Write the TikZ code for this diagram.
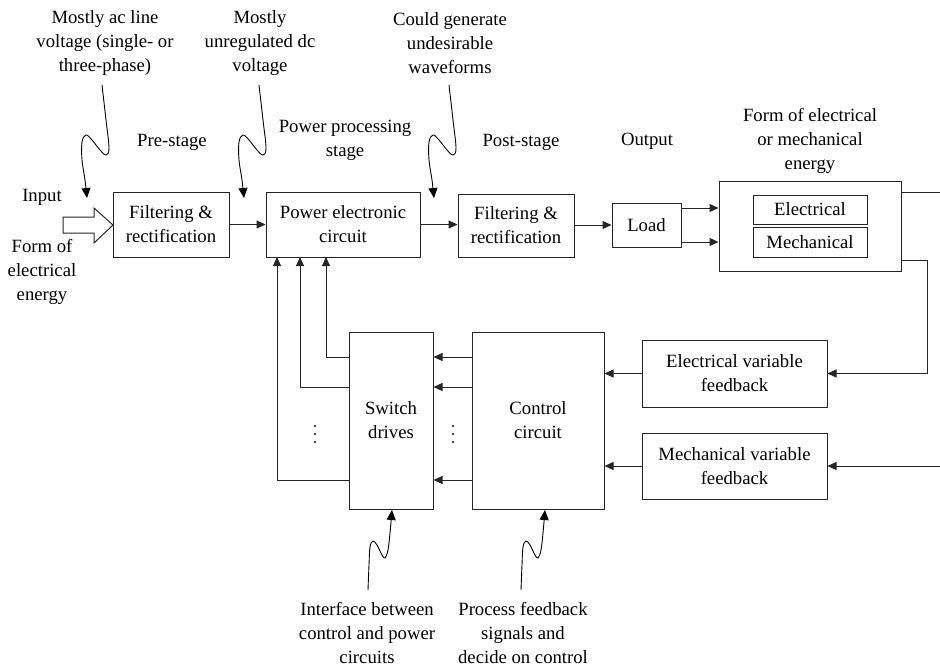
\documentclass[tikz,border=0pt]{standalone}
\usepackage{fontspec}
\setmainfont{Liberation Serif}
\usetikzlibrary{arrows.meta}
\tikzset{
  x=1pt,y=-1pt,
  every node/.style={font=\fontsize{18.7}{24}\selectfont, align=center, inner sep=0pt},
  blk/.style={draw=black!85, line width=1pt, fill=white},
  conn/.style={draw=black!85, line width=1pt, -{Triangle[length=9pt,width=8pt]}},
  wire/.style={draw=black!85, line width=1pt},
  squig/.style={draw=black, line width=0.9pt, -{Triangle[length=10pt,width=9pt]}},
}
\begin{document}
\begin{tikzpicture}
\useasboundingbox (0,0) rectangle (940,664);

% main chain
\node[blk, minimum width=116pt, minimum height=65pt] (f1) at (171,224.5) {Filtering \&\\rectification};
\node[blk, minimum width=154pt, minimum height=65pt] (pec) at (343,224.5) {Power electronic\\circuit};
\node[blk, minimum width=116pt, minimum height=63pt] (f2) at (516,225.5) {Filtering \&\\rectification};
\node[blk, minimum width=69pt, minimum height=44pt] (load) at (646.5,225) {Load};
\node[blk, minimum width=182pt, minimum height=90pt] (out) at (810,226) {};
\node[blk, minimum width=114pt, minimum height=29pt] (elec) at (810,209.5) {Electrical};
\node[blk, minimum width=114pt, minimum height=30pt] (mech) at (810,242) {Mechanical};

% feedback
\node[blk, minimum width=185pt, minimum height=67pt] (efb) at (734.5,373.5) {Electrical variable\\feedback};
\node[blk, minimum width=185pt, minimum height=66pt] (mfb) at (734.5,466) {Mechanical variable\\feedback};
\node[blk, minimum width=132pt, minimum height=177pt] (ctrl) at (538,420.5) {Control\\circuit};
\node[blk, minimum width=84pt, minimum height=177pt] (sw) at (391,420.5) {Switch\\drives};

% input block arrow
\draw[line width=1pt, draw=black!85, fill=white] (63,217) -- (94,217) -- (94,208) -- (113,225) -- (94,243) -- (94,233) -- (63,233) -- cycle;

% labels
\node (inp) at (42,197) {Input};
\node (form) at (42,272) {Form of\\electrical\\energy};
\node (pre) at (172,142) {Pre-stage};
\node (pps) at (345,140) {Power processing\\stage};
\node (post) at (521,142) {Post-stage};
\node (outl) at (647,141) {Output};
\node (outf) at (810,141) {Form of electrical\\or mechanical\\energy};
\node (a1) at (105,43) {Mostly ac line\\voltage (single- or\\three-phase)};
\node (a2) at (260,43) {Mostly\\unregulated dc\\voltage};
\node (a3) at (450,43) {Could generate\\undesirable\\waveforms};
\node (b1) at (367,633) {Interface between\\control and power\\circuits};
\node (b2) at (523,633) {Process feedback\\signals and\\decide on control};

% chain connectors
\draw[conn] (f1.east) -- (pec.west);
\draw[conn] (pec.east) -- (f2.west |- pec.east);
\draw[conn] (f2.east |- load.west) -- (load.west);
\draw[conn] (load.east |- 0,208) -- (out.west |- 0,208);
\draw[conn] (load.east |- 0,242) -- (out.west |- 0,242);
\coordinate (r1) at (940,192);
\draw[wire] (out.east |- r1) -- (r1);
\coordinate (r2) at (927,260);
\draw[conn] (out.east |- r2) -- (r2) |- (efb.east);
\coordinate (r3) at (940,466);
\draw[conn] (r3) -- (mfb.east);
\draw[conn] (efb.west) -- (ctrl.east |- efb.west);
\draw[conn] (mfb.west) -- (ctrl.east |- mfb.west);

% control to switch drives
\foreach \yy in {357,387,480} {
  \draw[conn] (ctrl.west |- 0,\yy) -- (sw.east |- 0,\yy);
}
% switch drives to power electronic circuit
\draw[conn] (sw.west |- 0,357) -- (326,357) -- (326,257);
\draw[conn] (sw.west |- 0,387) -- (300,387) -- (300,257);
\draw[conn] (sw.west |- 0,480) -- (277,480) -- (277,257);

% dots
\foreach \xx in {315,453} {
  \fill (\xx,426) circle (1.2pt);
  \fill (\xx,434) circle (1.2pt);
  \fill (\xx,442) circle (1.2pt);
}

% top squiggles
\foreach \sx in {102,259,449} {
  \draw[squig, shift={(\sx,85)}] plot[smooth, tension=0.6] coordinates
    {(0,0) (4,35) (7,63) (4,70) (-2,65) (-10,55) (-16,50) (-20,57) (-20,75) (-17,95) (-15,113)};
}
% bottom squiggles
\foreach \sx in {368,521} {
  \draw[squig, shift={(\sx,590)}] plot[smooth, tension=0.6] coordinates
    {(0,0) (1,-25) (2,-43) (5,-49) (9,-45) (14,-35) (17,-32) (20,-40) (22,-57) (24,-80)};
}
\end{tikzpicture}
\end{document}
